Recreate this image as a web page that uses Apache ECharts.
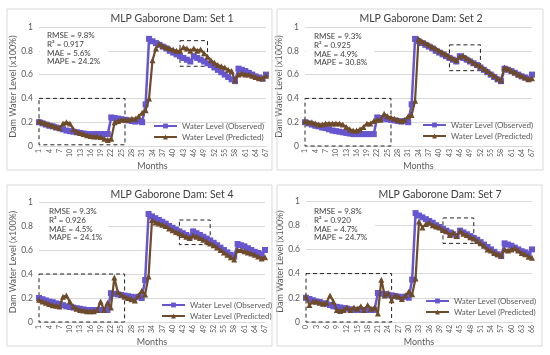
<!DOCTYPE html>
<html><head><meta charset="utf-8">
<script src="https://cdn.jsdelivr.net/npm/echarts@6/dist/echarts.min.js"></script>
<style>html,body{margin:0;padding:0;background:#fff}#c{width:550px;height:355px}</style>
</head><body><div id="c"></div>
<script>
const monthsA = ['1','2','3','4','5','6','7','8','9','10','11','12','13','14','15','16','17','18','19','20','21','22','23','24','25','26','27','28','29','30','31','32','33','34','35','36','37','38','39','40','41','42','43','44','45','46','47','48','49','50','51','52','53','54','55','56','57','58','59','60','61','62','63','64','65','66','67'];
const monthsB = ['0','1','2','3','4','5','6','7','8','9','10','11','12','13','14','15','16','17','18','19','20','21','22','23','24','25','26','27','28','29','30','31','32','33','34','35','36','37','38','39','40','41','42','43','44','45','46','47','48','49','50','51','52','53','54','55','56','57','58','59','60','61','62','63','64','65','66'];

const observed = [0.20,0.19,0.18,0.17,0.165,0.155,0.15,0.14,0.13,0.125, 0.12,0.115,0.11,0.105,0.10,0.10,0.10,0.10,0.10,0.10, 0.10,0.24,0.235,0.23,0.225,0.22,0.215,0.21,0.205,0.21, 0.20,0.35,0.90,0.88,0.865,0.85,0.835,0.82,0.80,0.785, 0.77,0.755,0.74,0.725,0.71,0.755,0.74,0.725,0.71,0.695, 0.68,0.66,0.64,0.62,0.60,0.58,0.56,0.545,0.65,0.64, 0.63,0.615,0.60,0.585,0.575,0.565,0.60];

const predSet1 = [0.21,0.20,0.19,0.18,0.17,0.16,0.15,0.19,0.20,0.19, 0.14,0.12,0.11,0.10,0.09,0.085,0.08,0.08,0.075,0.06, 0.05,0.06,0.20,0.21,0.22,0.22,0.22,0.23,0.23,0.25, 0.28,0.30,0.40,0.72,0.82,0.86,0.84,0.83,0.82,0.81, 0.80,0.80,0.83,0.82,0.80,0.82,0.80,0.81,0.78,0.75, 0.72,0.70,0.68,0.67,0.66,0.64,0.63,0.55,0.60,0.61, 0.60,0.60,0.59,0.58,0.57,0.57,0.59];
const predSet2 = [0.21,0.20,0.20,0.19,0.18,0.18,0.19,0.19,0.19,0.19, 0.19,0.18,0.16,0.14,0.13,0.13,0.14,0.16,0.19,0.19, 0.21,0.22,0.22,0.27,0.25,0.24,0.23,0.22,0.21,0.22, 0.25,0.26,0.38,0.90,0.88,0.865,0.85,0.835,0.82,0.80, 0.785,0.77,0.75,0.735,0.72,0.75,0.76,0.74,0.72,0.70, 0.685,0.67,0.65,0.63,0.61,0.59,0.57,0.55,0.66,0.65, 0.63,0.62,0.60,0.59,0.575,0.56,0.57];
const predSet4 = [0.185,0.17,0.16,0.15,0.14,0.135,0.13,0.21,0.22,0.17, 0.13,0.11,0.10,0.095,0.09,0.09,0.09,0.10,0.17,0.10, 0.16,0.12,0.37,0.25,0.23,0.21,0.20,0.19,0.18,0.22, 0.26,0.23,0.38,0.85,0.83,0.82,0.81,0.80,0.78,0.765, 0.75,0.74,0.725,0.71,0.70,0.72,0.71,0.70,0.685,0.67, 0.655,0.64,0.62,0.60,0.58,0.56,0.54,0.52,0.60,0.60, 0.59,0.58,0.57,0.56,0.545,0.53,0.54];
const predSet7 = [0.21,0.14,0.17,0.17,0.16,0.15,0.16,0.22,0.17,0.10, 0.09,0.10,0.12,0.10,0.12,0.11,0.13,0.10,0.14,0.11, 0.12,0.07,0.35,0.22,0.24,0.18,0.22,0.21,0.19,0.22, 0.25,0.23,0.36,0.83,0.78,0.81,0.82,0.80,0.79,0.78, 0.76,0.75,0.72,0.74,0.71,0.75,0.73,0.72,0.70,0.69, 0.67,0.65,0.63,0.60,0.59,0.57,0.56,0.55,0.60,0.59, 0.60,0.61,0.59,0.57,0.56,0.54,0.53];

const titles = ['MLP Gaborone Dam: Set 1','MLP Gaborone Dam: Set 2','MLP Gaborone Dam: Set 4','MLP Gaborone Dam: Set 7'];
const stats1 = ['RMSE = 9.8%','R\u00B2 = 0.917','MAE = 5.6%','MAPE = 24.2%'];
const stats2 = ['RMSE = 9.3%','R\u00B2 = 0.925','MAE = 4.9%','MAPE = 30.8%'];
const stats4 = ['RMSE = 9.3%','R\u00B2 = 0.926','MAE = 4.5%','MAPE = 24.1%'];
const stats7 = ['RMSE = 9.8%','R\u00B2 = 0.920','MAE = 4.7%','MAPE = 24.7%'];
// dashed boxes: [xStart, xEnd, yLow, yHigh]
const boxes1 = [['1','26',0.01,0.40],['42','50',0.67,0.885]];
const boxes2 = [['1','26',0.0,0.40],['43','52',0.633,0.85]];
const boxes4 = [['1','26',0.0,0.40],['42','51',0.645,0.85]];
const boxes7 = [['0','25',0.0,0.40],['40','49',0.65,0.86]];

const obsName = 'Water Level (Observed)';
const predName = 'Water Level (Predicted)';
const FONT = 'Lato';
const OBS_C = '#6656CF';
const PRED_C = '#6E4B2A';

const panels = [
  {cats: monthsA, pred: predSet1, stats: stats1, boxes: boxes1, title: titles[0],
   grid: {left: 39, top: 27, width: 227, height: 119}, legend: {left: 153, top: 122},
   titlePos: [172, 19], statsPos: [47, 31], border: [7, 9, 265, 161]},
  {cats: monthsA, pred: predSet2, stats: stats2, boxes: boxes2, title: titles[1],
   grid: {left: 305, top: 27, width: 227, height: 119}, legend: {left: 422, top: 121},
   titlePos: [421, 19], statsPos: [314, 32], border: [277, 9, 266, 161]},
  {cats: monthsA, pred: predSet4, stats: stats4, boxes: boxes4, title: titles[2],
   grid: {left: 39, top: 202, width: 226, height: 120}, legend: {left: 161, top: 301},
   titlePos: [172, 195], statsPos: [49, 207], border: [7, 185, 265, 161]},
  {cats: monthsB, pred: predSet7, stats: stats7, boxes: boxes7, title: titles[3],
   grid: {left: 306, top: 201, width: 226, height: 121}, legend: {left: 425, top: 297},
   titlePos: [440, 195], statsPos: [314, 207], border: [277, 185, 265, 161]}
];

const option = {
  animation: false,
  backgroundColor: '#fff',
  textStyle: {fontFamily: FONT},
  grid: [], xAxis: [], yAxis: [], series: [], legend: [], graphic: []
};

panels.forEach((p, i) => {
  option.grid.push(Object.assign({containLabel: false}, p.grid));
  option.xAxis.push({
    type: 'category', gridIndex: i, data: p.cats, boundaryGap: false,
    name: 'Months', nameLocation: 'middle', nameGap: 16,
    nameTextStyle: {fontFamily: FONT, fontSize: 9, color: '#595959'},
    axisLine: {lineStyle: {color: '#d9d9d9'}},
    axisTick: {show: false},
    axisLabel: {interval: 2, rotate: 90, fontSize: 7, color: '#595959', margin: 3, fontFamily: FONT}
  });
  option.yAxis.push({
    type: 'value', gridIndex: i, min: 0, max: 1, interval: 0.2,
    name: 'Dam Water Level (x100%)', nameLocation: 'middle', nameGap: 17,
    nameTextStyle: {fontFamily: FONT, fontSize: 9, color: '#595959'},
    axisLine: {show: false}, axisTick: {show: false},
    axisLabel: {fontSize: 8.5, color: '#595959', margin: 6, fontFamily: FONT},
    splitLine: {lineStyle: {color: '#d9d9d9', width: 1}}
  });
  option.series.push({
    name: obsName, type: 'line', xAxisIndex: i, yAxisIndex: i, data: observed,
    symbol: 'rect', symbolSize: 6, showAllSymbol: true,
    lineStyle: {color: OBS_C, width: 2.5}, itemStyle: {color: OBS_C},
    z: 2,
    markArea: {
      silent: true,
      itemStyle: {color: 'rgba(0,0,0,0)', borderColor: '#222', borderWidth: 1, borderType: [4, 3]},
      data: p.boxes.map(b => [{xAxis: b[0], yAxis: b[3]}, {xAxis: b[1], yAxis: b[2]}])
    }
  });
  option.series.push({
    name: predName, type: 'line', xAxisIndex: i, yAxisIndex: i, data: p.pred,
    symbol: 'triangle', symbolSize: 6, showAllSymbol: true,
    lineStyle: {color: PRED_C, width: 2.2}, itemStyle: {color: PRED_C},
    z: 3
  });
  option.legend.push({
    orient: 'vertical', left: p.legend.left, top: p.legend.top,
    itemWidth: 23, itemHeight: 6, itemGap: 3, padding: 0,
    textStyle: {fontSize: 8, color: '#595959', fontFamily: FONT},
    data: [obsName, predName]
  });
  option.graphic.push({
    type: 'rect', z: 1, silent: true,
    shape: {x: p.border[0], y: p.border[1], width: p.border[2], height: p.border[3]},
    style: {fill: 'none', stroke: '#d9d9d9', lineWidth: 1}
  });
  option.graphic.push({
    type: 'rect', z: 10, silent: true,
    shape: {x: p.grid.left + 1, y: p.statsPos[1] - 2, width: 68, height: 39},
    style: {fill: '#fff'}
  });
  option.graphic.push({
    type: 'text', z: 11, silent: true, x: p.statsPos[0], y: p.statsPos[1],
    style: {text: p.stats.join('\n'), font: '8px ' + FONT, fill: '#404040', lineHeight: 8.8}
  });
  option.graphic.push({
    type: 'text', z: 11, silent: true, x: p.titlePos[0], y: p.titlePos[1],
    style: {text: p.title, font: '10.5px ' + FONT, fill: '#404040', align: 'center', verticalAlign: 'middle'}
  });
});

const chart = echarts.init(document.getElementById('c'), null, {renderer: 'canvas'});
chart.setOption(option);
</script>
</body></html>
